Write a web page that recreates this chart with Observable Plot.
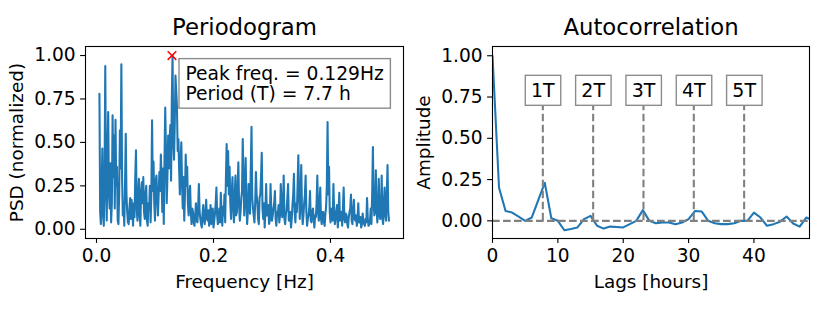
<!DOCTYPE html>
<html><head><meta charset="utf-8">
<script src="https://cdn.jsdelivr.net/npm/d3@7"></script>
<script src="https://cdn.jsdelivr.net/npm/@observablehq/plot@0.6"></script>
<style>
body{margin:0;background:#fff;}
#wrap{display:flex;width:830px;height:312px;}
</style></head><body><div id="wrap"></div>
<script>
// ---------------- data ----------------
const titles = ["Periodogram", "Autocorrelation"];
const xLabels = ["Frequency [Hz]", "Lags [hours]"];
const yLabels = ["PSD (normalized)", "Amplitude"];
const psdXTicks = [0, 0.2, 0.4];
const acfXTicks = [0, 10, 20, 30, 40];
const yTicks = [0, 0.25, 0.5, 0.75, 1.0];

const freqStart = 0.005, freqStep = 0.00125;
const psd = [
0.78,0.10,0.03,0.22,0.465,0.08,0.02,0.30,0.94,0.25,0.05,0.45,0.675,0.20,0.12,0.38,0.04,0.15,0.656,0.30,
0.54,0.12,0.63,0.25,0.36,0.05,0.03,0.20,0.57,0.35,0.95,0.30,0.08,0.15,0.02,0.25,0.55,0.20,0.10,0.04,
0.03,0.12,0.18,0.06,0.17,0.10,0.02,0.15,0.07,0.30,0.455,0.12,0.05,0.20,0.29,0.08,0.02,0.22,0.27,0.15,
0.30,0.10,0.06,0.20,0.25,0.05,0.02,0.15,0.12,0.25,0.04,0.20,0.627,0.22,0.39,0.15,0.05,0.28,0.31,0.18,
0.08,0.20,0.33,0.22,0.43,0.30,0.10,0.35,0.03,0.40,0.70,0.45,0.15,0.30,0.54,0.35,0.52,0.60,0.28,0.75,
1.00,0.50,0.40,0.60,0.885,0.80,0.71,0.45,0.52,0.35,0.20,0.40,0.50,0.25,0.12,0.30,0.05,0.20,0.43,0.25,
0.36,0.15,0.08,0.20,0.25,0.10,0.03,0.12,0.10,0.04,0.02,0.08,0.15,0.05,0.04,0.12,0.26,0.10,0.06,0.03,
0.01,0.09,0.14,0.05,0.03,0.10,0.17,0.06,0.05,0.11,0.02,0.06,0.14,0.03,0.07,0.12,0.01,0.05,0.09,0.15,
0.24,0.08,0.03,0.06,0.12,0.04,0.21,0.10,0.02,0.13,0.08,0.20,0.04,0.30,0.49,0.25,0.45,0.20,0.36,0.15,
0.06,0.22,0.30,0.12,0.04,0.18,0.31,0.08,0.10,0.25,0.385,0.14,0.05,0.10,0.18,0.22,0.52,0.30,0.08,0.20,
0.41,0.15,0.03,0.10,0.26,0.20,0.09,0.35,0.59,0.18,0.12,0.08,0.04,0.15,0.33,0.20,0.15,0.06,0.03,0.18,
0.20,0.30,0.44,0.12,0.06,0.15,0.01,0.10,0.26,0.08,0.08,0.14,0.03,0.05,0.26,0.12,0.05,0.08,0.12,0.15,
0.22,0.06,0.02,0.10,0.09,0.14,0.04,0.08,0.26,0.16,0.07,0.12,0.31,0.06,0.03,0.09,0.11,0.18,0.26,0.05,
0.05,0.10,0.01,0.06,0.14,0.20,0.32,0.10,0.04,0.15,0.10,0.25,0.426,0.20,0.06,0.18,0.37,0.12,0.03,0.08,
0.15,0.20,0.31,0.10,0.02,0.06,0.08,0.12,0.22,0.05,0.04,0.10,0.12,0.06,0.01,0.08,0.07,0.15,0.31,0.10,
0.05,0.14,0.24,0.06,0.03,0.10,0.10,0.04,0.02,0.09,0.13,0.25,0.617,0.20,0.36,0.10,0.04,0.12,0.09,0.05,
0.26,0.10,0.03,0.06,0.11,0.14,0.01,0.08,0.21,0.05,0.06,0.10,0.02,0.12,0.24,0.06,0.04,0.09,0.08,0.03,
0.01,0.07,0.10,0.12,0.20,0.05,0.03,0.10,0.17,0.06,0.05,0.08,0.02,0.06,0.15,0.04,0.04,0.07,0.01,0.03,
0.09,0.05,0.03,0.02,0.06,0.04,0.18,0.06,0.02,0.03,0.05,0.12,0.03,0.20,0.474,0.15,0.08,0.10,0.34,0.14,
0.04,0.08,0.29,0.12,0.06,0.10,0.31,0.06,0.03,0.15,0.24,0.08,0.05,0.20,0.37,0.10,0.05
];
const peakFreq = 0.129, peakPsd = 1.0;
const annotationLines = ["Peak freq. = 0.129Hz", "Period (T) = 7.7 h"];

const lags = [0,1,2,3,4,5,6,7,8,9,10,11,12,13,14,15,16,17,18,19,20,21,22,23,24,25,26,27,28,29,30,31,32,33,34,35,36,37,38,39,40,41,42,43,44,45,46,47,48,49];
const acf = [
1.0,0.20,0.06,0.05,0.025,0.0,0.02,0.125,0.23,0.016,
0.0,-0.057,-0.05,-0.04,0.01,0.03,-0.03,-0.047,-0.035,-0.037,
-0.04,-0.02,0.0,0.065,0.0,-0.015,-0.01,-0.01,-0.02,-0.01,
0.01,0.06,0.057,0.0,-0.015,-0.02,-0.02,-0.015,0.0,0.0,
0.05,0.02,-0.03,-0.02,-0.005,0.026,-0.016,-0.035,0.02,0.005
];
const periodHours = 7.7;
const multiples = [1, 2, 3, 4, 5];
const multipleLabels = ["1T", "2T", "3T", "4T", "5T"];
const labelLevel = 0.785;

// ---------------- style ----------------
const BLUE = "#1f77b4", GRAY = "#808080";
const FONT = "DejaVu Sans, sans-serif";
const TICK = 18.6, LABEL = 18.4, TITLE = 22.8, ANNOT = 18.7, BOXFONT = 19;
const common = {
  width: 415, height: 312, marginTop: 46, marginBottom: 74,
  style: {fontFamily: FONT, fontSize: TICK + "px", background: "white", overflow: "visible", color: "black"}
};
function axes(xt, xfmt, i) {
  return [
    Plot.axisX({ticks: xt, tickFormat: xfmt, tickSize: 4.9, tickPadding: 4.9, label: null, fontSize: TICK, strokeWidth: 1.1}),
    Plot.axisY({ticks: yTicks, tickFormat: d3.format(".2f"), tickSize: 4.9, tickPadding: 4.9, label: null, fontSize: TICK, strokeWidth: 1.1}),
    Plot.text([titles[i]], {text: d => d, frameAnchor: "top", dy: -19, lineAnchor: "middle", textAnchor: "middle", fontSize: TITLE, fill: "black"}),
    Plot.text([xLabels[i]], {text: d => d, frameAnchor: "bottom", dy: 44, lineAnchor: "middle", textAnchor: "middle", fontSize: LABEL, fill: "black"}),
    Plot.text([yLabels[i]], {text: d => d, frameAnchor: "left", dx: i === 0 ? -68 : -68, rotate: -90, lineAnchor: "middle", textAnchor: "middle", fontSize: LABEL, fill: "black"})
  ];
}

const psdData = psd.map((p, i) => ({f: freqStart + i * freqStep, p}));
const acfData = lags.map((l, i) => ({lag: l, v: acf[i]}));

const left = Plot.plot({
  ...common, marginLeft: 85, marginRight: 12,
  x: {domain: [-0.0188, 0.5248]},
  y: {domain: [-0.053, 1.052]},
  marks: [
    Plot.line(psdData, {x: "f", y: "p", stroke: BLUE, strokeWidth: 2.08}),
    Plot.dot([{f: peakFreq, p: peakPsd}], {x: "f", y: "p", symbol: "times", r: 4, stroke: "red", strokeWidth: 1.5}),
    Plot.text([annotationLines.join("\n")], {text: d => d, frameAnchor: "top-left", textAnchor: "start", lineAnchor: "top", dx: 100, dy: 18.5, lineHeight: 1.1, fontSize: ANNOT, fill: "black"}),
    ...axes(psdXTicks, d3.format(".1f"), 0),
    Plot.frame({stroke: "black", strokeWidth: 1.1})
  ]
});

const right = Plot.plot({
  ...common, marginLeft: 77, marginRight: 21,
  x: {domain: [0, 48.5]},
  y: {domain: [-0.107, 1.056]},
  marks: [
    Plot.line(acfData, {x: "lag", y: "v", stroke: BLUE, strokeWidth: 2.08, clip: true}),
    Plot.ruleY([0], {stroke: GRAY, strokeWidth: 2.08, strokeDasharray: "7.7,3.3"}),
    Plot.ruleX(multiples, {x: k => k * periodHours, y1: 0, y2: labelLevel, stroke: GRAY, strokeWidth: 2.08, strokeDasharray: "7.7,3.3"}),
    Plot.text(multiples, {x: k => k * periodHours, y: labelLevel, text: (k, i) => multipleLabels[i], lineAnchor: "middle", textAnchor: "middle", fontSize: BOXFONT, fill: "black"}),
    ...axes(acfXTicks, d3.format("d"), 1),
    Plot.frame({stroke: "black", strokeWidth: 1.1})
  ]
});

const wrap = document.getElementById("wrap");
wrap.append(left, right);

function addBoxes(svg, match, padX, padY) {
  svg.querySelectorAll("text").forEach(t => {
    if (!match(t.textContent)) return;
    const b = t.getBBox();
    const r = document.createElementNS("http://www.w3.org/2000/svg", "rect");
    r.setAttribute("x", b.x - padX);
    r.setAttribute("y", b.y - padY);
    r.setAttribute("width", b.width + 2 * padX);
    r.setAttribute("height", b.height + 2 * padY);
    r.setAttribute("fill", "white");
    r.setAttribute("stroke", "#8c8c8c");
    r.setAttribute("stroke-width", 1.4);
    if (t.getAttribute("transform")) r.setAttribute("transform", t.getAttribute("transform"));
    t.parentNode.insertBefore(r, t);
  });
}
addBoxes(left, s => s.startsWith(annotationLines[0]), 6.5, 4);
addBoxes(right, s => multipleLabels.includes(s), 5.7, 4);
</script></body></html>
